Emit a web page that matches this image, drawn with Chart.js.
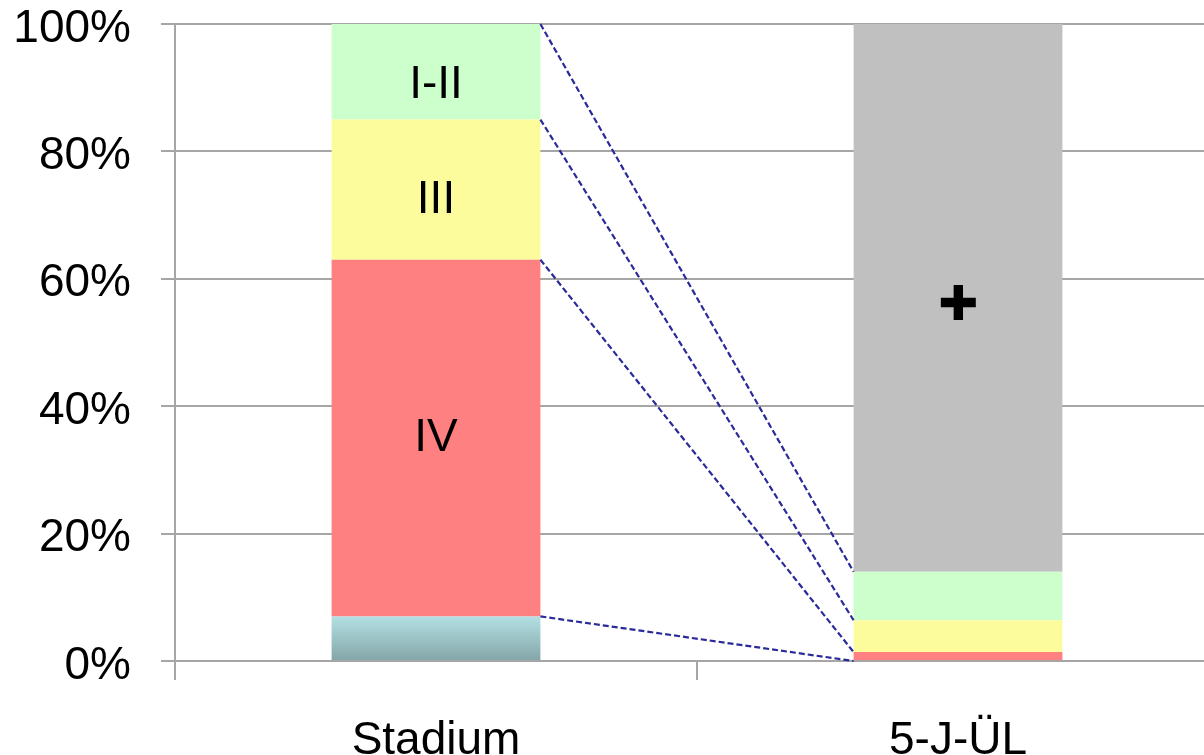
<!DOCTYPE html>
<html>
<head>
<meta charset="utf-8">
<script src="https://cdn.jsdelivr.net/npm/chart.js@4.4.0/dist/chart.umd.min.js"></script>
<style>
    html, body { margin: 0; padding: 0; background: #fff; overflow: hidden; }
    canvas { display: block; }
</style>
</head>
<body>
<canvas id="stageChart" width="1260" height="755"></canvas>
<script>
// Data
const categories = ['Stadium', '5-J-ÜL'];
const yTicks = [0, 20, 40, 60, 80, 100];

const unknownValues = [7, 0];
const stageIVValues = [56, 1.4];
const stageIIIValues = [22, 5];
const stageI_IIValues = [15, 7.6];
const deceasedValues = [0, 86];

const stageIVLabels = ['IV', ''];
const stageIIILabels = ['III', ''];
const stageI_IILabels = ['I-II', ''];
const deceasedLabels = ['', '✚'];

const FONT = '"Liberation Sans", Arial, Helvetica, sans-serif';

// teal segment has a vertical gradient
function tealGradient(context) {
    const chart = context.chart;
    const { chartArea } = chart;
    if (!chartArea) return '#a7d2d5';
    const y = chart.scales.y;
    const g = chart.ctx.createLinearGradient(0, y.getPixelForValue(unknownValues[0]), 0, y.getPixelForValue(0));
    g.addColorStop(0, '#b3e0e4');
    g.addColorStop(1, '#84a5a7');
    return g;
}

// Labels inside the segments
const segmentLabelPlugin = {
    id: 'segmentLabels',
    afterDatasetsDraw(chart) {
        const ctx = chart.ctx;
        chart.data.datasets.forEach((ds, i) => {
            if (!ds.segLabels) return;
            const meta = chart.getDatasetMeta(i);
            meta.data.forEach((bar, j) => {
                const text = ds.segLabels[j];
                if (!text) return;
                const props = bar.getProps(['x', 'y', 'base'], true);
                ctx.save();
                ctx.fillStyle = '#000';
                ctx.textAlign = 'center';
                ctx.textBaseline = 'middle';
                ctx.font = ds.segFont || ('46px ' + FONT);
                ctx.fillText(text, props.x, (props.y + props.base) / 2 + (ds.segShift || 0));
                ctx.restore();
            });
        });
    }
};

// Dashed connectors between cumulative boundaries
const connectorPlugin = {
    id: 'connectors',
    afterDatasetsDraw(chart) {
        const ctx = chart.ctx;
        ctx.save();
        ctx.strokeStyle = '#2a2a9a';
        ctx.lineWidth = 2.2;
        ctx.setLineDash([6, 3]);
        chart.data.datasets.forEach((ds, i) => {
            if (!(ds.data[0] > 0)) return;
            const meta = chart.getDatasetMeta(i);
            const a = meta.data[0].getProps(['x', 'y', 'width'], true);
            const b = meta.data[1].getProps(['x', 'y', 'width'], true);
            ctx.beginPath();
            ctx.moveTo(a.x + a.width / 2, a.y);
            ctx.lineTo(b.x - b.width / 2, b.y);
            ctx.stroke();
        });
        ctx.restore();
    }
};

const ctx = document.getElementById('stageChart').getContext('2d');
new Chart(ctx, {
    type: 'bar',
    data: {
        labels: categories,
        datasets: [
            { label: 'unbekannt', data: unknownValues, backgroundColor: tealGradient },
            { label: 'IV', data: stageIVValues, backgroundColor: '#ff8080', segLabels: stageIVLabels },
            { label: 'III', data: stageIIIValues, backgroundColor: '#fcfc9c', segLabels: stageIIILabels, segShift: 11 },
            { label: 'I-II', data: stageI_IIValues, backgroundColor: '#ccffcc', segLabels: stageI_IILabels, segShift: 14 },
            { label: 'verstorben', data: deceasedValues, backgroundColor: '#c0c0c0', segLabels: deceasedLabels,
              segFont: 'bold 48px "DejaVu Sans", sans-serif', segShift: 10 }
        ]
    },
    options: {
        responsive: false,
        animation: false,
        layout: { padding: { top: 24, right: 41, bottom: 0, left: 0 } },
        datasets: {
            bar: { barPercentage: 0.4, categoryPercentage: 1, borderWidth: 0 }
        },
        plugins: {
            legend: { display: false },
            tooltip: { enabled: false }
        },
        scales: {
            x: {
                stacked: true,
                grid: { drawOnChartArea: false, drawTicks: true, tickLength: 19, color: '#a6a6a6', lineWidth: 2 },
                border: { color: '#a6a6a6', width: 2 },
                ticks: { color: '#000', font: { family: FONT, size: 46 }, padding: 34 },
                afterFit(scale) {
                    scale.height = 94;
                    scale.paddingLeft = 0;
                    scale.paddingRight = 0;
                }
            },
            y: {
                stacked: true,
                min: 0,
                max: 100,
                afterBuildTicks(scale) {
                    scale.ticks = yTicks.map(v => ({ value: v }));
                },
                grid: { color: '#a6a6a6', lineWidth: 2, tickLength: 14 },
                border: { color: '#a6a6a6', width: 2 },
                ticks: {
                    color: '#000',
                    font: { family: FONT, size: 46 },
                    padding: 30,
                    labelOffset: 5,
                    callback: v => v + '%'
                },
                afterFit(scale) {
                    scale.width = 175;
                    scale.paddingTop = 0;
                    scale.paddingBottom = 0;
                }
            }
        }
    },
    plugins: [segmentLabelPlugin, connectorPlugin]
});
</script>
</body>
</html>
